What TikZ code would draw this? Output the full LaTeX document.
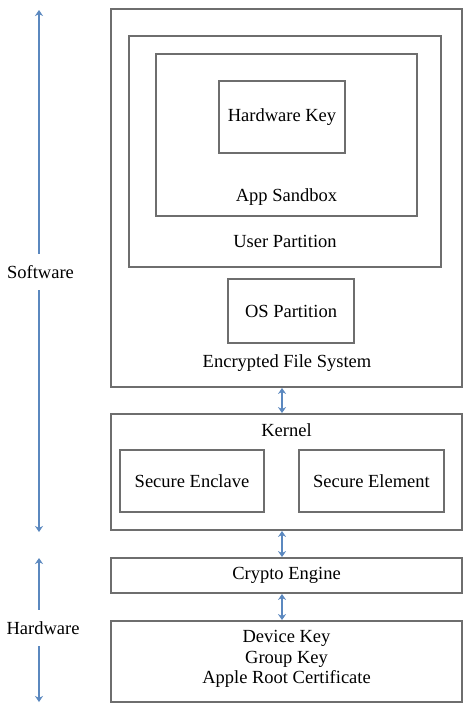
\documentclass[tikz,border=0pt]{standalone}
\usepackage{fontspec}
\setmainfont{Liberation Serif}
\usetikzlibrary{arrows.meta}
\definecolor{boxgray}{HTML}{6E6E6E}
\definecolor{arrowblue}{HTML}{5B88BF}
\begin{document}
\begin{tikzpicture}[x=1pt,y=-1pt,
  box/.style={draw=boxgray, line width=1.8pt, inner sep=0pt, minimum width=#1},
  lbl/.style={inner sep=0pt, font=\fontsize{18.5}{20.5}\selectfont},
  side/.style={inner sep=0pt, minimum height=36pt, font=\fontsize{18.5}{20.5}\selectfont},
  conn/.style={draw=arrowblue, line width=2.5pt, {Stealth[length=6pt,width=8pt]}-{Stealth[length=6pt,width=8pt]}},
  oneway/.style={draw=arrowblue, line width=2.5pt, -{Stealth[length=6pt,width=8pt]}}]
\useasboundingbox (0,0) rectangle (474,714);
% boxes
\node[box=351pt, minimum height=378pt] (efs) at (286.5,198) {};
\node[box=312pt, minimum height=231pt] (user) at (285,151.5) {};
\node[box=261pt, minimum height=162pt] (app) at (286.5,135) {};
\node[box=126pt, minimum height=72pt, lbl] (hwkey) at (282,117) {Hardware Key};
\node[box=126pt, minimum height=64pt, lbl] (os) at (291,311) {OS Partition};
\node[box=351pt, minimum height=116pt] (kernel) at (286.5,472) {};
\node[box=144pt, minimum height=62pt, lbl] (enclave) at (192,481) {Secure Enclave};
\node[box=145pt, minimum height=62pt, lbl] (element) at (371.5,481) {Secure Element};
\node[box=351pt, minimum height=35pt, lbl] (crypto) at (286.5,575.5) {Crypto Engine};
\node[box=351pt, minimum height=81pt] (keys) at (286.5,661.5) {};
% labels
\node[lbl] (applbl) at (286.5,197) {App Sandbox};
\node[lbl] (userlbl) at (285,241.5) {User Partition};
\node[lbl] (efslbl) at (287,363) {Encrypted File System};
\node[lbl] (kernellbl) at (286.5,430) {Kernel};
\node[lbl, align=center] (keyslbl) at (286.5,659) {Device Key\\Group Key\\Apple Root Certificate};
% connectors
\draw[conn] (efs.south -| 282,0) -- (kernel.north -| 282,0);
\draw[conn] (kernel.south -| 282,0) -- (crypto.north -| 282,0);
\draw[conn] (crypto.south -| 282,0) -- (keys.north -| 282,0);
% side labels
\node[side] (sw) at (40.5,272) {Software};
\node[side] (hw) at (43,628) {Hardware};
\coordinate (swtop) at (39,10);
\coordinate (swbot) at (39,532);
\coordinate (hwtop) at (39,558);
\coordinate (hwbot) at (39,702);
\draw[oneway] (sw.north -| swtop) -- (swtop);
\draw[oneway] (sw.south -| swbot) -- (swbot);
\draw[oneway] (hw.north -| hwtop) -- (hwtop);
\draw[oneway] (hw.south -| hwbot) -- (hwbot);
\end{tikzpicture}
\end{document}
